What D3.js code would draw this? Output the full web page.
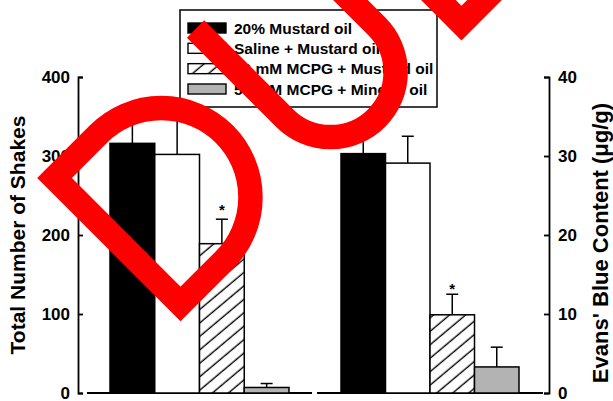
<!DOCTYPE html>
<html>
<head>
<meta charset="utf-8">
<script src="https://cdn.jsdelivr.net/npm/d3@7"></script>
<style>
  html, body { margin: 0; padding: 0; background: #fff; }
  svg { display: block; }
  text { font-family: "Liberation Sans", Arial, Helvetica, sans-serif; font-weight: bold; fill: #000; }
</style>
</head>
<body>
<svg id="chart" width="613" height="401"></svg>
<script>
// Treatment groups (legend order, also bar order within each panel)
const groups = [
  "20% Mustard oil",
  "Saline + Mustard oil",
  "50 mM MCPG + Mustard oil",
  "50 mM MCPG + Mineral oil"
];

// Left panel: total number of shakes (mean and SEM)
const shakes = [316, 302, 189, 7];
const shakesErr = [40, 54, 31, 5];
const shakesSig = [false, false, true, false];

// Right panel: Evans' blue content, µg/g (mean and SEM)
const evansBlue = [30.3, 29.1, 9.9, 3.3];
const evansErr = [3.2, 3.4, 2.6, 2.5];
const evansSig = [false, false, true, false];

// Axis ticks
const shakeTicks = [0, 100, 200, 300, 400];
const evansTicks = [0, 10, 20, 30, 40];

// Stamp letters drawn across the figure
const stampLetters = ["D", "U", "D"];

const svg = d3.select("#chart");
svg.append("rect").attr("width", 613).attr("height", 401).attr("fill", "#fff");

const defs = svg.append("defs");
const hatch = defs.append("pattern")
  .attr("id", "hatch")
  .attr("patternUnits", "userSpaceOnUse")
  .attr("width", 10).attr("height", 10.3)
  .attr("patternTransform", "rotate(-40)");
hatch.append("rect").attr("width", 10).attr("height", 10.3).attr("fill", "#fff");
hatch.append("line").attr("x1", -1).attr("x2", 11).attr("y1", 5).attr("y2", 5)
  .attr("stroke", "#000").attr("stroke-width", 1.4);

const fills = ["#000", "#fff", "url(#hatch)", "#b3b3b3"];

const yTop = 77, yBase = 393;
const yShakes = d3.scaleLinear().domain([0, 400]).range([yBase, yTop]);
const yEvans = d3.scaleLinear().domain([0, 40]).range([yBase, yTop]);

// Axes: ticks point inward
const leftAxis = svg.append("g").attr("transform", "translate(78,0)")
  .call(d3.axisLeft(yShakes).tickValues(shakeTicks).tickSize(-5).tickPadding(8));
const rightAxis = svg.append("g").attr("transform", "translate(549,0)")
  .call(d3.axisRight(yEvans).tickValues(evansTicks).tickSize(-5).tickPadding(9));
[leftAxis, rightAxis].forEach(a => {
  a.selectAll("path, line").attr("stroke", "#000").attr("stroke-width", 1.8);
  a.selectAll("text").style("font-size", "17px").style("font-family", '"Liberation Sans", Arial, sans-serif')
    .style("font-weight", "bold").attr("fill", "#000");
});

svg.append("text")
  .attr("transform", "translate(17,235) rotate(-90)")
  .attr("text-anchor", "middle").attr("dominant-baseline", "central")
  .style("font-size", "21px")
  .text("Total Number of Shakes");

svg.append("text")
  .attr("transform", "translate(600,243) rotate(-90)")
  .attr("text-anchor", "middle").attr("dominant-baseline", "central")
  .style("font-size", "22px")
  .text("Evans' Blue Content (\u03bcg/g)");

function panel(values, errs, sig, y, barRange, baseRange, starGap) {
  const x = d3.scaleBand().domain(groups).range(barRange).padding(0);
  const g = svg.append("g");
  // baseline
  g.append("line")
    .attr("x1", baseRange[0]).attr("x2", baseRange[1])
    .attr("y1", y(0)).attr("y2", y(0))
    .attr("stroke", "#000").attr("stroke-width", 1.8);
  const data = groups.map((k, i) => ({ k, i, v: values[i], e: errs[i], s: sig[i] }));
  // error bars (upper half only)
  const eb = g.selectAll(".err").data(data).join("g");
  eb.append("line")
    .attr("x1", d => x(d.k) + x.bandwidth() / 2).attr("x2", d => x(d.k) + x.bandwidth() / 2)
    .attr("y1", d => y(d.v)).attr("y2", d => y(d.v + d.e))
    .attr("stroke", "#000").attr("stroke-width", 1.5);
  eb.append("line")
    .attr("x1", d => x(d.k) + x.bandwidth() / 2 - 6).attr("x2", d => x(d.k) + x.bandwidth() / 2 + 6)
    .attr("y1", d => y(d.v + d.e)).attr("y2", d => y(d.v + d.e))
    .attr("stroke", "#000").attr("stroke-width", 1.5);
  g.selectAll(".bar").data(data).join("rect")
    .attr("x", d => x(d.k)).attr("width", x.bandwidth())
    .attr("y", d => y(d.v)).attr("height", d => y(0) - y(d.v))
    .attr("fill", d => fills[d.i])
    .attr("stroke", "#000").attr("stroke-width", 1.5);
  g.selectAll(".star").data(data.filter(d => d.s)).join("text")
    .attr("x", d => x(d.k) + x.bandwidth() / 2)
    .attr("y", d => y(d.v + d.e) - starGap)
    .attr("text-anchor", "middle").attr("dominant-baseline", "central")
    .style("font-size", "15px")
    .text("*");
}

panel(shakes, shakesErr, shakesSig, yShakes, [110, 289], [87, 312], 10);
panel(evansBlue, evansErr, evansSig, yEvans, [341, 519], [317, 543], 6);

// Legend
const legend = svg.append("g");
legend.append("rect").attr("x", 180).attr("y", 10).attr("width", 257).attr("height", 97)
  .attr("fill", "#fff").attr("stroke", "#000").attr("stroke-width", 1.5);
const rowY = d3.scalePoint().domain(groups).range([28, 89]);
legend.selectAll(".sw").data(groups).join("rect")
  .attr("x", 188).attr("width", 38)
  .attr("y", d => rowY(d) - 5).attr("height", 10)
  .attr("fill", (d, i) => fills[i])
  .attr("stroke", "#000").attr("stroke-width", 1.4);
legend.selectAll(".lt").data(groups).join("text")
  .attr("x", 234).attr("y", d => rowY(d))
  .attr("dominant-baseline", "central")
  .style("font-size", "15.5px")
  .text(d => d);

// Red stamp: letters built as stroked outlines in a frame turned by -45°
const capTop = 164.4, capBottom = 342.6;
function letterD(u0) {
  const r = (capBottom - capTop) / 2, L = 62;
  return `M${u0},${capTop} L${u0 + L},${capTop} A${r},${r} 0 0 1 ${u0 + L},${capBottom} L${u0},${capBottom} Z`;
}
function letterU(u0) {
  const w = 130, r = w / 2, armTop = 158.8, bowl = 284.8;
  return `M${u0},${armTop} L${u0},${bowl} A${r},${r} 0 0 0 ${u0 + w},${bowl} L${u0 + w},${-60}`;
}
const stampStarts = [-87.3, 117.8, 310];
const stamp = svg.append("g").attr("transform", "rotate(-45)");
stamp.selectAll("path").data(stampLetters).join("path")
  .attr("d", (c, i) => c === "D" ? letterD(stampStarts[i]) : letterU(stampStarts[i]))
  .attr("fill", "none").attr("stroke", "#ff0000").attr("stroke-width", 24.5)
  .attr("stroke-linejoin", "miter").attr("stroke-miterlimit", 10).attr("stroke-linecap", "butt");
</script>
</body>
</html>
